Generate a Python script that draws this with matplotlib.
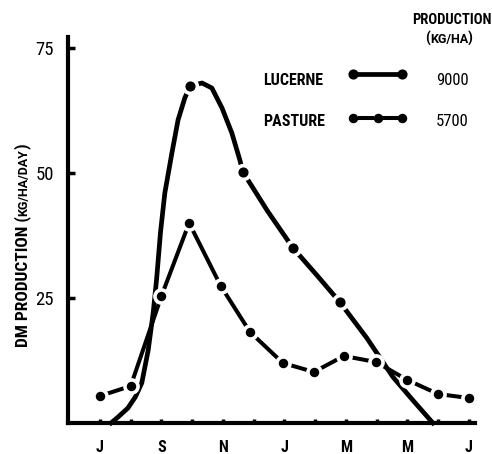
import matplotlib
matplotlib.use('Agg')
import matplotlib.pyplot as plt
from matplotlib.lines import Line2D

plt.rcParams['font.family'] = ['Roboto Condensed', 'DejaVu Sans']
SMALLCAPS = ['Roboto', 'DejaVu Sans']

# months counted from July (0) to the next July (12)
month_pos = list(range(13))
month_labels = ['J', '', 'S', '', 'N', '', 'J', '', 'M', '', 'M', '', 'J']
y_ticks = [25, 50, 75]

# lucerne growth curve (kg DM/ha/day)
lucerne_x = [0.36, 0.59, 0.91, 1.15, 1.36, 1.57, 1.73, 1.84, 1.97, 2.11, 2.34,
             2.54, 2.76, 2.93, 3.32, 3.64, 3.97, 4.29, 4.55, 4.65, 5.45, 6.28,
             7.05, 7.8, 8.68, 9.53, 10.2, 10.83]
lucerne_y = [0, 1.2, 3, 5.2, 8, 14.6, 22, 28.6, 38.2, 46, 54,
             60.6, 65, 67.4, 68, 67, 63, 58, 52.6, 50.2, 42.4, 35,
             29.6, 24.2, 17, 9.2, 4.4, 0]
lucerne_dots = [13, 19, 21, 23]

pasture_x = [0.0, 1.0, 2.0, 2.9, 3.93, 4.88, 5.95, 6.96, 7.93, 8.98, 10.0, 11.0, 12.0]
pasture_y = [5.4, 7.4, 25.4, 40.0, 27.4, 18.2, 12.0, 10.2, 13.4, 12.2, 8.6, 5.8, 5.0]

names = ['LUCERNE', 'PASTURE']
totals = ['9000', '5700']

W, H = 492, 454


def fx(px):
    return px / W


def fy(py):
    return 1 - py / H


fig = plt.figure(figsize=(W / 100, H / 100), dpi=100)
ax = fig.add_axes([fx(68), fy(423), (475 - 68) / W, (423 - 37) / H])
ax.set_xlim(-1.04, 12.2)
ax.set_ylim(0, 77.2)

for s in ['top', 'right']:
    ax.spines[s].set_visible(False)
for s in ['left', 'bottom']:
    ax.spines[s].set_linewidth(3)

ax.set_xticks(month_pos)
ax.set_xticklabels(month_labels, fontsize=11.5, fontweight='bold')
ax.set_yticks(y_ticks)
ax.set_yticklabels([str(v) for v in y_ticks], fontsize=13.5)
ax.tick_params(axis='x', direction='in', length=3, width=2.5, pad=12)
ax.tick_params(axis='y', direction='in', length=5, width=2.5, pad=10)

# curves
ax.plot(lucerne_x, lucerne_y, color='k', lw=3.4, zorder=3, clip_on=False)
ax.plot(pasture_x, pasture_y, color='k', lw=2.9, zorder=3)

lx = [lucerne_x[i] for i in lucerne_dots]
ly = [lucerne_y[i] for i in lucerne_dots]
ax.plot(lx, ly, 'o', ms=11.5, color='white', zorder=4)
ax.plot(lx, ly, 'o', ms=6.3, color='k', zorder=5)
ax.plot(pasture_x, pasture_y, 'o', ms=11, color='white', zorder=4)
ax.plot(pasture_x, pasture_y, 'o', ms=5.8, color='k', zorder=5)

# y label, units in small caps
t1 = fig.text(fx(27), fy(347), 'DM PRODUCTION (', rotation=90, rotation_mode='anchor',
              ha='left', va='baseline', fontsize=12.5, fontweight='bold')
t2 = ax.annotate('KG/HA/DAY', xy=(fx(27), 1), xycoords=('figure fraction', t1),
                 rotation=90, rotation_mode='anchor', ha='left', va='baseline',
                 fontsize=9, fontweight='bold', family=SMALLCAPS)
ax.annotate(')', xy=(fx(27), 1), xycoords=('figure fraction', t2),
            rotation=90, rotation_mode='anchor', ha='left', va='baseline',
            fontsize=12.5, fontweight='bold')

# legend block
fig.text(fx(412), fy(24), 'PRODUCTION', ha='left', va='baseline',
         fontsize=10.5, fontweight='bold')
h1 = fig.text(fx(425), fy(43), '(', ha='left', va='baseline', fontsize=11, fontweight='bold')
h2 = ax.annotate('KG/HA', xy=(1, fy(43)), xycoords=(h1, 'figure fraction'),
                 ha='left', va='baseline', fontsize=9, fontweight='bold', family=SMALLCAPS)
ax.annotate(')', xy=(1, fy(43)), xycoords=(h2, 'figure fraction'),
            ha='left', va='baseline', fontsize=11, fontweight='bold')

base = [85, 126]
mid = [74, 118]
for name, total, b in zip(names, totals, base):
    fig.text(fx(263), fy(b), name, ha='left', va='baseline', fontsize=11.5, fontweight='bold')
    fig.text(fx(436), fy(b), total, ha='left', va='baseline', fontsize=12)

tr = fig.transFigure
fig.add_artist(Line2D([fx(358), fx(397)], [fy(mid[0])] * 2, lw=3.4, color='k', transform=tr))
fig.add_artist(Line2D([fx(353), fx(402)], [fy(mid[0])] * 2, ls='none', marker='o',
                      ms=6.3, color='k', transform=tr))
for a, b in [(360, 372), (384, 397)]:
    fig.add_artist(Line2D([fx(a), fx(b)], [fy(mid[1])] * 2, lw=2.9, color='k', transform=tr))
fig.add_artist(Line2D([fx(353), fx(378), fx(402)], [fy(mid[1])] * 3, ls='none', marker='o',
                      ms=5.8, color='k', transform=tr))

fig.savefig('out.png', dpi=100)
